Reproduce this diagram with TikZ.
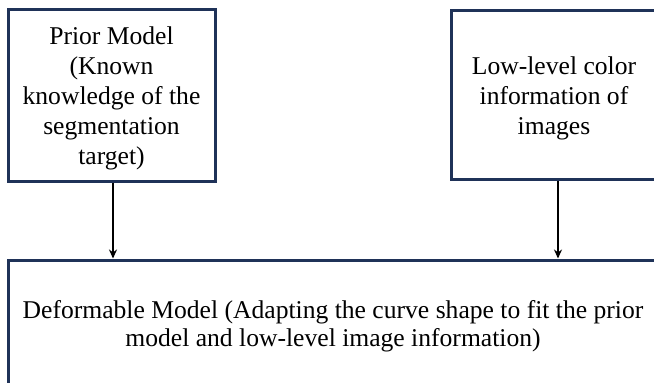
\documentclass[tikz,border=0pt]{standalone}
\usepackage{fontspec}
\setmainfont{Liberation Serif}
\usetikzlibrary{arrows.meta}
\definecolor{boxline}{RGB}{31,50,88}
\tikzset{
  block/.style={draw=boxline, line width=3pt, fill=white, inner sep=0pt},
  label text/.style={align=center, inner sep=0pt, font=\fontsize{25.6}{30}\selectfont},
  link/.style={draw=black, line width=2.2pt, -{Stealth[length=9pt,width=8pt]}}
}
\begin{document}
\begin{tikzpicture}[x=1pt,y=-1pt]
  \useasboundingbox (0,0) rectangle (654,383);
  \clip (0,0) rectangle (654,383);
  \fill[white] (0,0) rectangle (654,383);
  % input boxes
  \node[block, minimum width=207pt, minimum height=172pt] (prior) at (111.5,95) {};
  \node[label text] (priortext) at ([yshift=-3.5pt]prior.center)
    {Prior Model\\(Known\\knowledge of the\\segmentation\\target)};
  \node[block, minimum width=206pt, minimum height=169pt] (color) at (554,94.5) {};
  \node[label text] (colortext) at ([yshift=-3.5pt]color.center)
    {Low-level color\\information of\\images};
  % combined model
  \node[block, minimum width=650pt, minimum height=124pt] (deform) at (333,322) {};
  \node[label text, font=\fontsize{25.6}{28.5}\selectfont] (deformtext) at ([yshift=-4pt]deform.center)
    {Deformable Model (Adapting the curve shape to fit the prior\\model and low-level image information)};
  % connectors
  \draw[link] ([xshift=1.5pt]prior.south) -- ([xshift=1.5pt]prior.south |- deform.north);
  \draw[link] ([xshift=4pt]color.south) -- ([xshift=4pt]color.south |- deform.north);
\end{tikzpicture}
\end{document}
